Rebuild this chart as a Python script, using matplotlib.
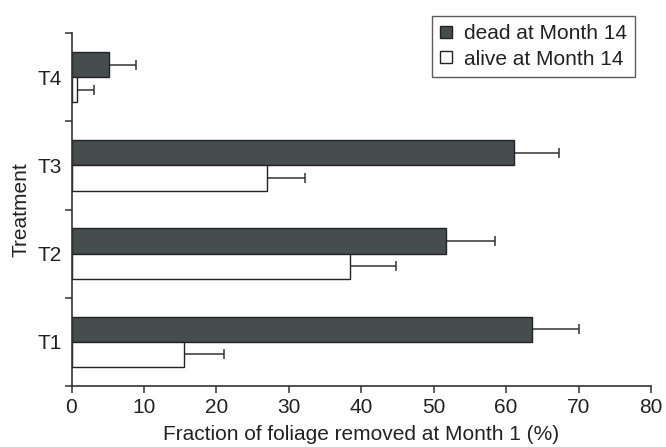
import numpy as np
import matplotlib.pyplot as plt
from matplotlib.lines import Line2D

plt.rcParams['font.family'] = ['Liberation Sans', 'DejaVu Sans']

treatments = ['T1', 'T2', 'T3', 'T4']
dead = [63.6, 51.7, 61.1, 5.2]
dead_err = [6.5, 6.7, 6.2, 3.7]
alive = [15.5, 38.5, 27.0, 0.7]
alive_err = [5.6, 6.3, 5.3, 2.4]

dark = '#464d4e'
edge = '#222222'
h = 0.285
fs = 15

fig = plt.figure(figsize=(6.66, 4.47), dpi=100)
ax = fig.add_axes([71.5/666, 1-386/447, (651-71.5)/666, (386-33)/447])

y = np.arange(len(treatments))
ax.barh(y + h/2, dead, height=h, color=dark, edgecolor=edge, linewidth=1.0, zorder=2)
ax.barh(y - h/2, alive, height=h, color='white', edgecolor=edge, linewidth=1.0, zorder=2)
ax.errorbar(dead, y + h/2, xerr=[np.zeros(4), dead_err], fmt='none',
            ecolor='#333333', elinewidth=1.1, capsize=3.5, capthick=1.1, zorder=1)
ax.errorbar(alive, y - h/2, xerr=[np.zeros(4), alive_err], fmt='none',
            ecolor='#333333', elinewidth=1.1, capsize=3.5, capthick=1.1, zorder=1)

ax.set_xlim(0, 80)
ax.set_ylim(-0.5, 3.5)
ax.set_xticks(np.arange(0, 81, 10))
ax.set_yticks(np.arange(-0.5, 3.6, 1))
ax.set_yticklabels([])
ax.set_yticks(y, minor=True)
ax.set_yticklabels(treatments, minor=True)
ax.tick_params(axis='y', which='minor', length=0, pad=7, labelsize=fs, labelcolor='#222222')
ax.tick_params(axis='both', which='major', direction='out', length=5, width=1.1,
               color='#333333', labelsize=fs, labelcolor='#222222')

for s in ['top', 'right']:
    ax.spines[s].set_visible(False)
for s in ['left', 'bottom']:
    ax.spines[s].set_color('#333333')
    ax.spines[s].set_linewidth(1.2)

ax.set_xlabel('Fraction of foliage removed at Month 1 (%)', fontsize=fs, color='#222222', labelpad=6)
ax.set_ylabel('Treatment', fontsize=fs, color='#222222', labelpad=5)

handles = [Line2D([], [], marker='s', linestyle='none', markersize=8,
                  markerfacecolor=dark, markeredgecolor=edge),
           Line2D([], [], marker='s', linestyle='none', markersize=8,
                  markerfacecolor='white', markeredgecolor=edge)]
leg = fig.legend(handles, ['dead at Month 14', 'alive at Month 14'],
                 loc='upper left', bbox_to_anchor=(432/666, 1-16/447),
                 fontsize=fs, frameon=True, fancybox=False, borderaxespad=0,
                 handlelength=0.6, handletextpad=0.55, borderpad=0.38, labelspacing=0.32)
leg.get_frame().set_edgecolor('#333333')
leg.get_frame().set_linewidth(1.0)
for t in leg.get_texts():
    t.set_color('#222222')

fig.savefig('out.png', dpi=100)
